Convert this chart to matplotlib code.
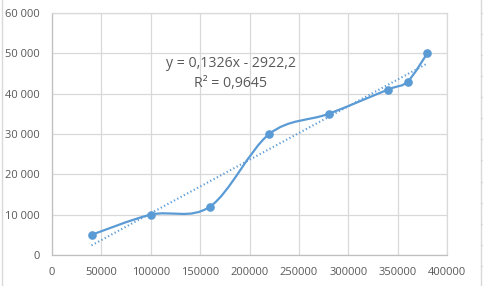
"""Scatter with smoothed line and linear trendline, Excel look."""

import matplotlib
matplotlib.use("Agg")
import matplotlib.pyplot as plt
import numpy as np
from matplotlib.lines import Line2D
from matplotlib.patches import PathPatch
from matplotlib.path import Path
from matplotlib.ticker import FuncFormatter, MultipleLocator

# Data
x_vals = [40000, 100000, 160000, 220000, 280000, 340000, 360000, 380000]
y_vals = [5000, 10000, 12000, 30000, 35000, 41000, 43000, 50000]
equation_label = "y = 0,1326x - 2922,2"
r2_label = "R² = 0,9645"

BLUE = "#5b9bd5"
GRID = "#d9d9d9"
TEXT = "#595959"

plt.rcParams["font.family"] = ["Open Sans", "DejaVu Sans"]


def smooth_path(xs, ys):
    """Excel-like smoothed line: Catmull-Rom segments as cubic Beziers."""
    pts = np.column_stack([xs, ys]).astype(float)
    n = len(pts)
    verts = [pts[0]]
    codes = [Path.MOVETO]
    for i in range(n - 1):
        p0 = pts[i - 1] if i > 0 else pts[i]
        p1 = pts[i]
        p2 = pts[i + 1]
        p3 = pts[i + 2] if i + 2 < n else pts[i + 1]
        c1 = p1 + (p2 - p0) / 6.0
        c2 = p2 - (p3 - p1) / 6.0
        verts += [c1, c2, p2]
        codes += [Path.CURVE4] * 3
    return Path(verts, codes)


fig = plt.figure(figsize=(4.83, 2.86), dpi=100)
ax = fig.add_axes([0.1077, 0.1084, 0.8178, 0.8461])

# Smoothed series line and markers
ax.add_patch(PathPatch(smooth_path(x_vals, y_vals), facecolor="none",
                       edgecolor=BLUE, linewidth=1.6, zorder=3))
ax.plot(x_vals, y_vals, linestyle="none", marker="o", markersize=5.2,
        color=BLUE, zorder=4)

# Linear trendline (least squares)
slope, intercept = np.polyfit(x_vals, y_vals, 1)
tx = np.array([min(x_vals), max(x_vals)])
ax.plot(tx, slope * tx + intercept, linestyle=(0, (0.6, 1.2)),
        color=BLUE, linewidth=1.5, zorder=2)

ax.text(181000, 47600, equation_label, ha="center", va="center",
        fontsize=10.2, color=TEXT)
ax.text(181000, 42600, r2_label, ha="center", va="center",
        fontsize=10.2, color=TEXT)

ax.set_xlim(0, 400000)
ax.set_ylim(0, 60000)
ax.xaxis.set_major_locator(MultipleLocator(50000))
ax.yaxis.set_major_locator(MultipleLocator(10000))
ax.xaxis.set_major_formatter(FuncFormatter(lambda v, _: f"{int(v)}"))
ax.yaxis.set_major_formatter(
    FuncFormatter(lambda v, _: f"{int(v):,}".replace(",", " ")))

ax.grid(True, color=GRID, linewidth=0.9)
ax.set_axisbelow(True)
for spine in ax.spines.values():
    spine.set_color(GRID)
    spine.set_linewidth(0.9)
ax.spines["left"].set_color("#bfbfbf")
ax.spines["bottom"].set_color("#bfbfbf")
ax.tick_params(length=0, labelsize=8, labelcolor=TEXT, pad=9)
ax.tick_params(axis="y", pad=9)

# Spreadsheet cell borders around the chart
fig.add_artist(Line2D([1.5 / 483, 1.5 / 483], [0, 1], color=GRID, lw=1))
xr = 480.7 / 483
fig.add_artist(Line2D([xr, xr], [0, 1], color=GRID, lw=1))
for k in range(13):
    yy = 1 - (12.7 + k * 21.1) / 286
    fig.add_artist(Line2D([xr, xr + 3 / 483], [yy, yy], color=GRID, lw=1))

fig.savefig("out.png", dpi=100)
